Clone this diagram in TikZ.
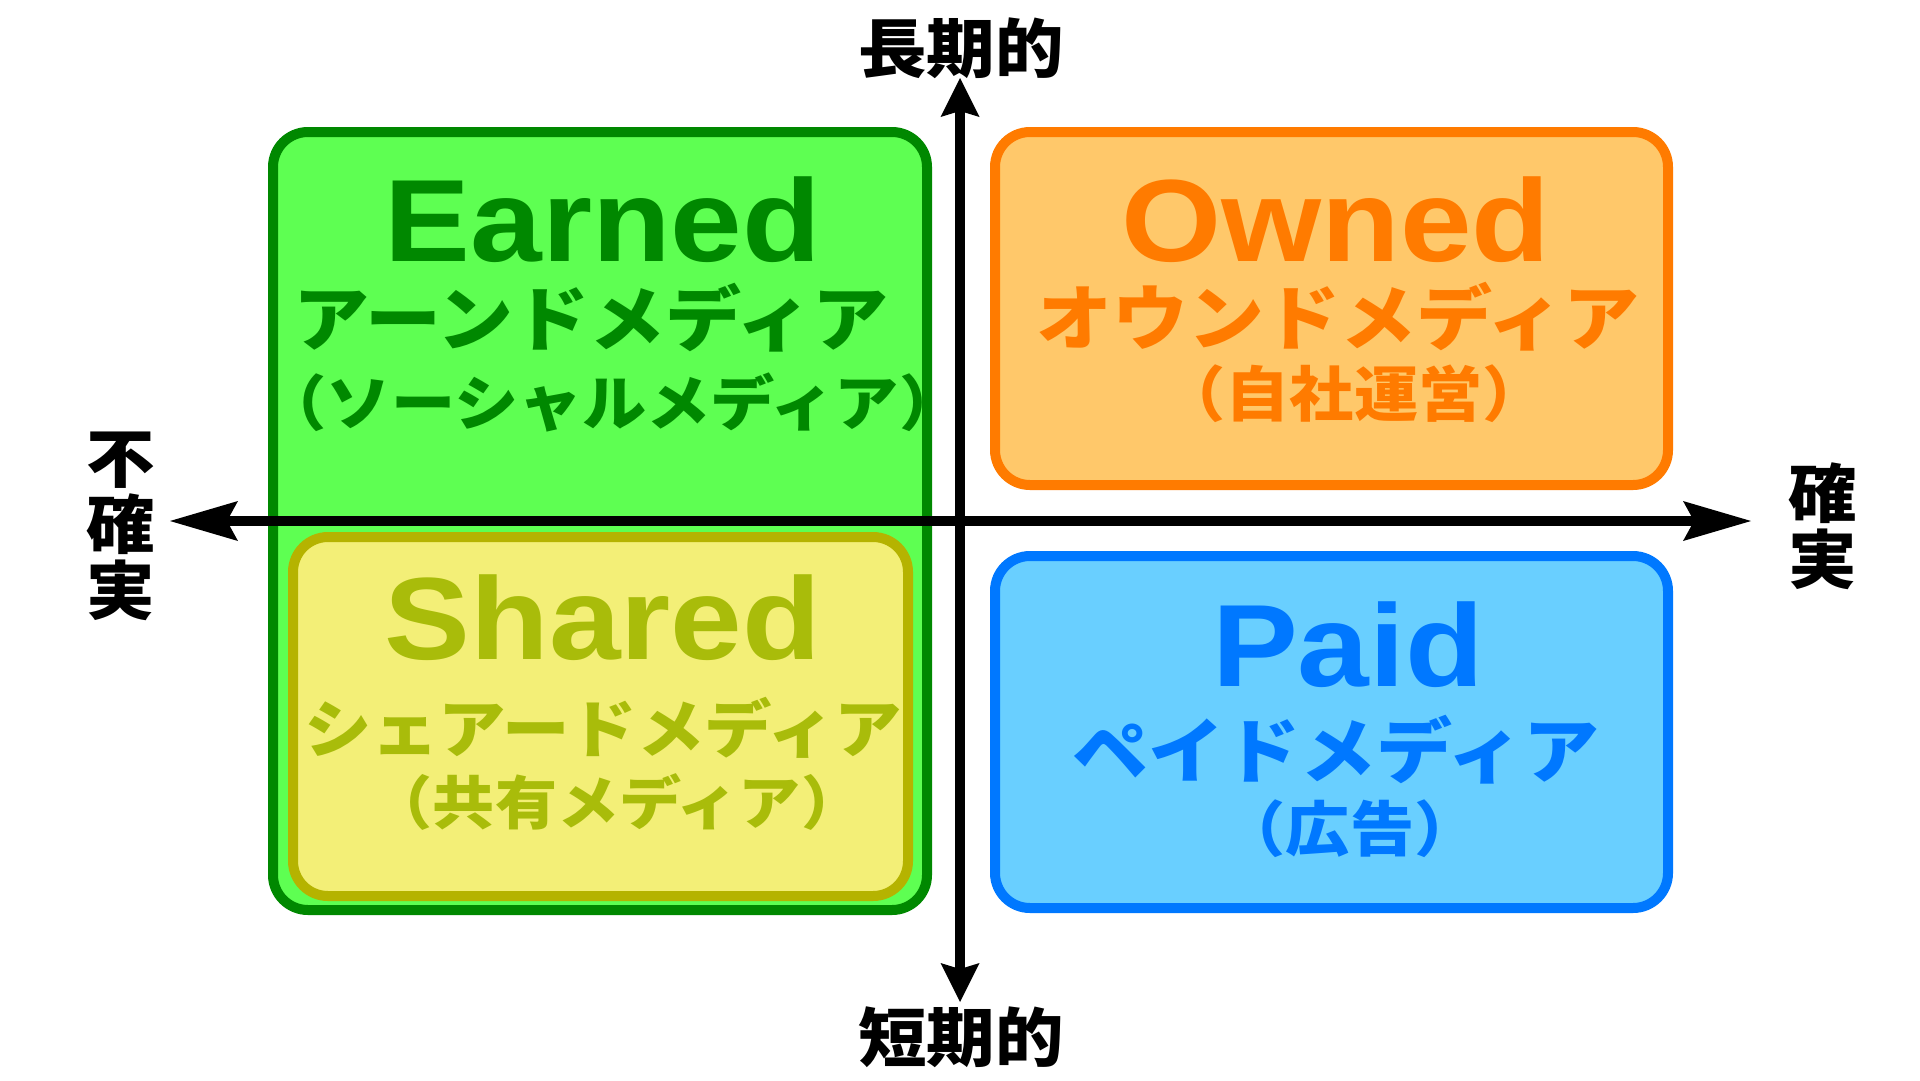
\documentclass[tikz,border=0pt]{standalone}
\usepackage{fontspec}
\setmainfont{Liberation Sans}
\newfontfamily\jpfont{Noto Sans CJK JP}[FakeStretch=1.07]
\newfontfamily\titlefont{Liberation Sans}[FakeStretch=1.1]
\usepackage{tikz}
\usetikzlibrary{arrows.meta}

\definecolor{earnedfill}{HTML}{5EFF52}
\definecolor{earnedline}{HTML}{008800}
\definecolor{ownedfill}{HTML}{FFC86A}
\definecolor{ownedline}{HTML}{FF7B00}
\definecolor{sharedfill}{HTML}{F3EF77}
\definecolor{sharedline}{HTML}{B5B300}
\definecolor{sharedtext}{HTML}{A9BC0A}
\definecolor{paidfill}{HTML}{69CFFF}
\definecolor{paidline}{HTML}{0078FF}

\begin{document}
\begin{tikzpicture}[x=1pt,y=-1pt]
  \tikzset{box/.style = {shape=rectangle,rounded corners=35pt,line width=10pt,inner sep=0pt}}
  \tikzset{title/.style = {inner sep=0pt,font=\titlefont\bfseries\fontsize{117}{117}\selectfont}}
  \tikzset{kana/.style = {inner sep=0pt,font=\jpfont\bfseries\fontsize{71}{71}\selectfont}}
  \tikzset{note/.style = {inner sep=0pt,font=\jpfont\bfseries\fontsize{60}{60}\selectfont}}
  \tikzset{axislabel/.style = {inner sep=0pt,align=center,font=\jpfont\bfseries\fontsize{64}{66}\selectfont}}
  \tikzset{axis/.style = {line width=10pt,draw=black}}

  \useasboundingbox (0,0) rectangle (1920,1080);

  % boxes
  \node[box,draw=earnedline,fill=earnedfill,minimum width=654pt,minimum height=778pt] (earnedbox) at (600,521) {};
  \node[box,draw=sharedline,fill=sharedfill,minimum width=615pt,minimum height=359pt] (sharedbox) at (600.5,716.5) {};
  \node[box,draw=ownedline,fill=ownedfill,minimum width=673pt,minimum height=353pt] (ownedbox) at (1331.5,308.5) {};
  \node[box,draw=paidline,fill=paidfill,minimum width=673pt,minimum height=352pt] (paidbox) at (1331.5,732) {};

  % texts
  \node[title,text=earnedline] (earned) at (603,220) {Earned};
  \node[kana,text=earnedline] (earnedjp) at (591,318) {アーンドメディア};
  \node[note,text=earnedline] (earnednote) at (613,402) {（ソーシャルメディア）};

  \node[title,text=ownedline] (owned) at (1336,220) {Owned};
  \node[kana,text=ownedline] (ownedjp) at (1338,317) {オウンドメディア};
  \node[note,text=ownedline] (ownednote) at (1354,394) {（自社運営）};

  \node[title,text=sharedtext] (shared) at (603,618) {Shared};
  \node[kana,text=sharedtext,font=\jpfont\bfseries\fontsize{63}{63}\selectfont] (sharedjp) at (603,728) {シェアードメディア};
  \node[note,text=sharedtext,font=\jpfont\bfseries\fontsize{58}{58}\selectfont] (sharednote) at (617,802) {（共有メディア）};

  \node[title,text=paidline] (paid) at (1348,645) {Paid};
  \node[kana,text=paidline] (paidjp) at (1336,750) {ペイドメディア};
  \node[note,text=paidline] (paidnote) at (1350,829) {（広告）};

  % axes
  \coordinate (W) at (170,521);
  \coordinate (E) at (1751,521);
  \coordinate (N) at (960,78);
  \coordinate (S) at (960,1002);
  \draw[axis,{Stealth[length=68pt,width=40pt,inset=11pt,line width=0pt]}-{Stealth[length=68pt,width=40pt,inset=11pt,line width=0pt]}] (W) -- (E);
  \draw[axis,{Stealth[length=39pt,width=39pt,inset=6pt,line width=0pt]}-{Stealth[length=39pt,width=39pt,inset=6pt,line width=0pt]}] (N) -- (S);

  \node[axislabel] (long) at (961,48) {長期的};
  \node[axislabel] (short) at (961,1037) {短期的};
  \node[axislabel] (uncertain) at (121,526) {不\\確\\実};
  \node[axislabel] (certain) at (1823,526) {確\\実};
\end{tikzpicture}
\end{document}
